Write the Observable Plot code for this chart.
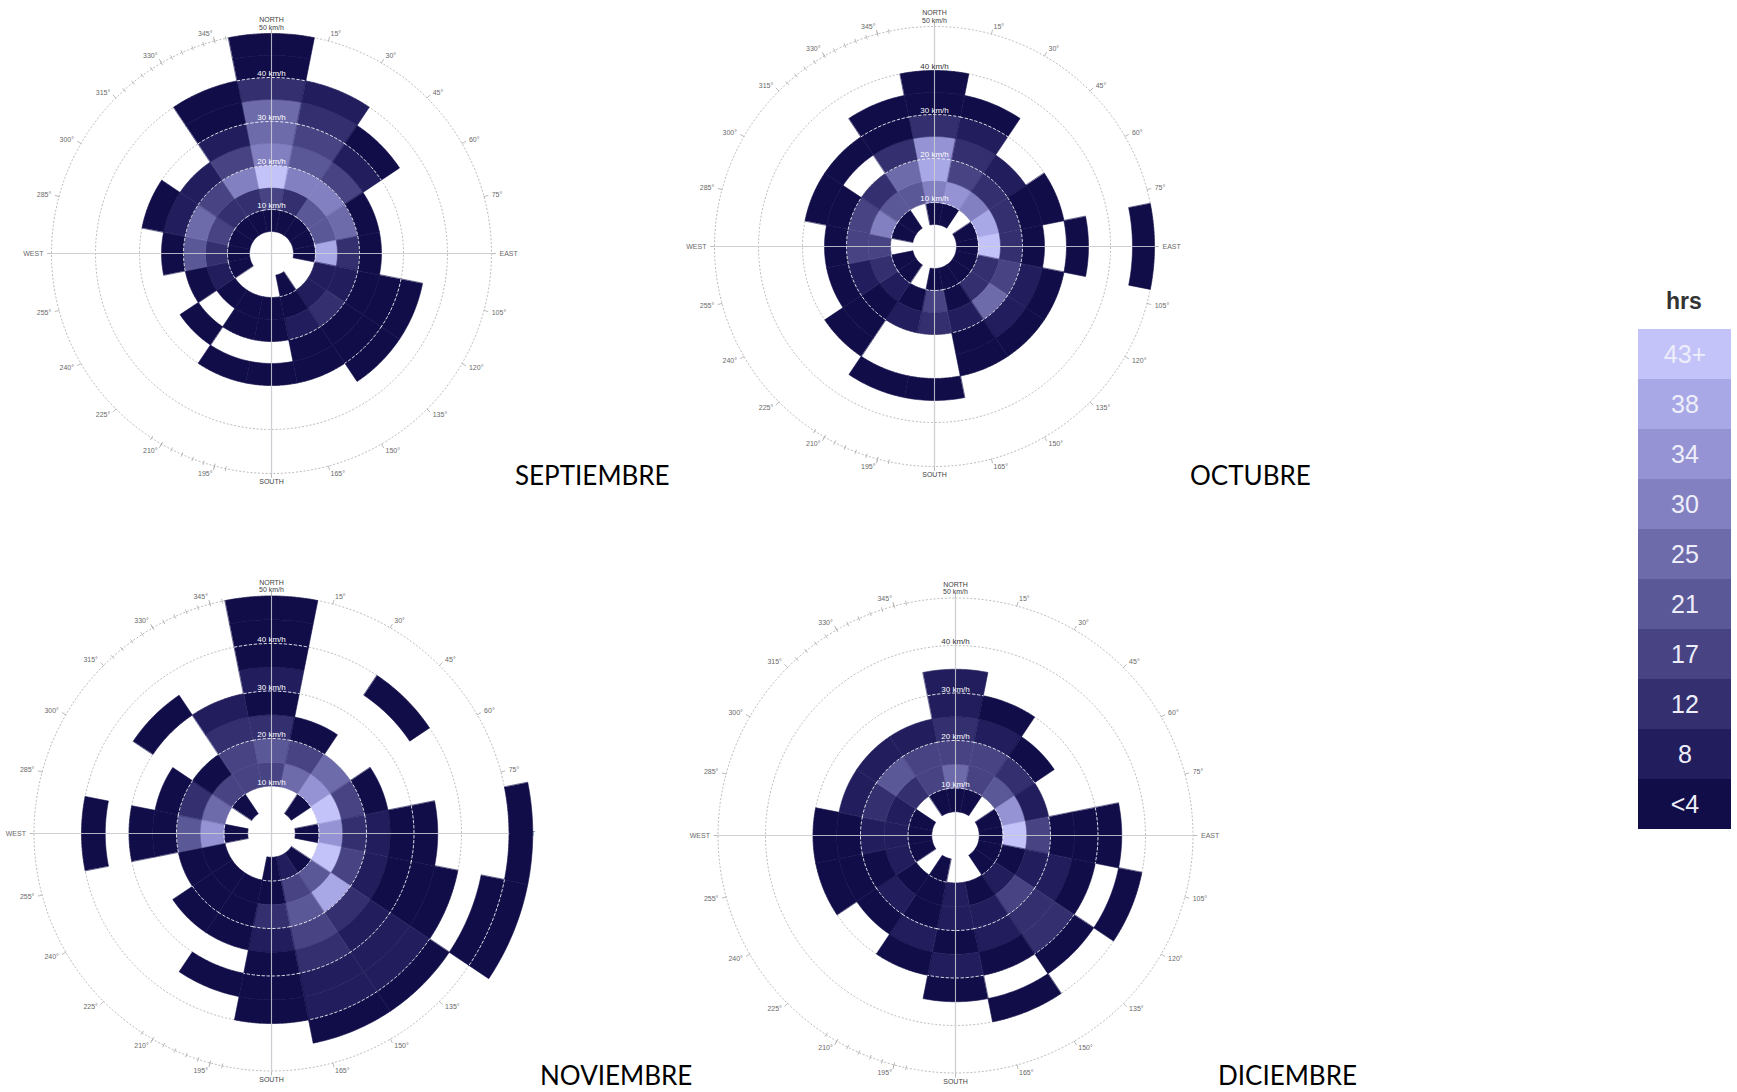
<!DOCTYPE html>
<html lang="es">
<head>
<meta charset="utf-8">
<title>Rosa de vientos por mes</title>
<script src="https://cdn.jsdelivr.net/npm/d3@7"></script>
<script src="https://cdn.jsdelivr.net/npm/@observablehq/plot@0.6"></script>
<style>
  html, body { margin: 0; padding: 0; background: #fff; }
  #page { position: relative; width: 1737px; height: 1092px; overflow: hidden; background: #fff; }
  .rose, .legend { position: absolute; }
  .month { position: absolute; font-family: Lato, "Open Sans", sans-serif; font-size: 26px; line-height: 1; color: #000; white-space: nowrap; }
  .hrs { position: absolute; font-family: "Liberation Sans", Arial, sans-serif; font-weight: bold; font-size: 23px; line-height: 1; color: #333; }
</style>
</head>
<body>
<div id="page"></div>
<script>
// Direction sectors, 22.5° wide and centred on each compass point (clockwise from north)
const directions = ["N", "NNE", "NE", "ENE", "E", "ESE", "SE", "SSE", "S", "SSW", "SW", "WSW", "W", "WNW", "NW", "NNW"];
// Speed bin edges in km/h: column j holds the hours between speedEdges[j] and speedEdges[j + 1]
const speedEdges = [5, 10, 15, 20, 25, 30, 35, 40, 45, 50, 55];
const ringSpeeds = [10, 20, 30, 40];
const dashedSpeeds = [10, 20, 30, 40, 50];
const compassBearings = d3.range(0, 360, 15);

// Hours of wind per direction (rows) and speed bin (columns 5–10 … 50–55 km/h)
const septiembre = [
  [2, 15, 45, 28, 24, 24, 11, 2, 2, 0],
  [2, 11, 28, 20, 15, 11, 7, 0, 0, 0],
  [2, 20, 28, 15, 7, 2, 0, 0, 0, 0],
  [2, 20, 24, 2, 0, 0, 0, 0, 0, 0],
  [2, 37, 11, 2, 0, 0, 0, 0, 0, 0],
  [0, 7, 7, 2, 2, 2, 0, 0, 0, 0],
  [0, 7, 11, 2, 2, 2, 0, 0, 0, 0],
  [2, 2, 7, 2, 2, 0, 0, 0, 0, 0],
  [0, 2, 2, 0, 2, 0, 0, 0, 0, 0],
  [0, 2, 2, 0, 2, 0, 0, 0, 0, 0],
  [0, 2, 0, 2, 0, 0, 0, 0, 0, 0],
  [2, 7, 2, 0, 0, 0, 0, 0, 0, 0],
  [2, 11, 20, 2, 0, 0, 0, 0, 0, 0],
  [2, 15, 24, 7, 2, 0, 0, 0, 0, 0],
  [2, 11, 15, 7, 0, 0, 0, 0, 0, 0],
  [2, 11, 28, 15, 7, 2, 2, 0, 0, 0]
];
const octubre = [
  [2, 28, 37, 33, 11, 2, 2, 0, 0, 0],
  [2, 33, 15, 11, 7, 2, 0, 0, 0, 0],
  [0, 28, 11, 7, 0, 0, 0, 0, 0, 0],
  [2, 37, 11, 2, 2, 0, 0, 0, 0, 0],
  [2, 45, 11, 2, 0, 2, 0, 0, 2, 0],
  [2, 11, 15, 7, 2, 0, 0, 0, 0, 0],
  [2, 11, 24, 7, 2, 0, 0, 0, 0, 0],
  [2, 2, 7, 2, 2, 0, 0, 0, 0, 0],
  [2, 15, 11, 0, 0, 2, 0, 0, 0, 0],
  [0, 2, 7, 0, 0, 2, 0, 0, 0, 0],
  [2, 7, 2, 2, 2, 0, 0, 0, 0, 0],
  [2, 11, 7, 2, 0, 0, 0, 0, 0, 0],
  [0, 15, 15, 2, 0, 0, 0, 0, 0, 0],
  [2, 28, 15, 2, 2, 0, 0, 0, 0, 0],
  [2, 20, 11, 0, 2, 0, 0, 0, 0, 0],
  [0, 20, 24, 11, 2, 2, 0, 0, 0, 0]
];
const noviembre = [
  [0, 15, 20, 11, 2, 7, 2, 2, 2, 0],
  [0, 24, 15, 2, 0, 0, 0, 0, 0, 0],
  [2, 33, 24, 0, 0, 0, 2, 0, 0, 0],
  [0, 45, 15, 2, 0, 0, 0, 0, 0, 0],
  [2, 33, 11, 7, 2, 2, 0, 0, 0, 2],
  [0, 45, 15, 7, 2, 2, 2, 0, 2, 2],
  [2, 20, 37, 11, 7, 7, 7, 2, 0, 0],
  [7, 15, 20, 15, 11, 7, 7, 2, 0, 0],
  [2, 2, 11, 7, 2, 2, 2, 0, 0, 0],
  [0, 2, 2, 2, 0, 2, 0, 0, 0, 0],
  [0, 2, 2, 2, 0, 0, 0, 0, 0, 0],
  [0, 2, 2, 0, 0, 0, 0, 0, 0, 0],
  [2, 33, 20, 2, 2, 0, 2, 0, 0, 0],
  [0, 24, 11, 2, 0, 0, 0, 0, 0, 0],
  [2, 15, 2, 0, 0, 2, 0, 0, 0, 0],
  [0, 15, 15, 11, 7, 0, 0, 0, 0, 0]
];
const diciembre = [
  [2, 24, 15, 11, 7, 7, 0, 0, 0, 0],
  [2, 15, 15, 7, 2, 0, 0, 0, 0, 0],
  [0, 20, 11, 2, 0, 0, 0, 0, 0, 0],
  [2, 33, 7, 0, 0, 0, 0, 0, 0, 0],
  [2, 45, 15, 2, 2, 2, 0, 0, 0, 0],
  [2, 2, 7, 7, 2, 0, 2, 0, 0, 0],
  [2, 7, 15, 11, 11, 2, 0, 0, 0, 0],
  [0, 2, 7, 7, 2, 0, 2, 0, 0, 0],
  [0, 7, 7, 2, 7, 2, 0, 0, 0, 0],
  [2, 2, 2, 7, 2, 0, 0, 0, 0, 0],
  [0, 2, 7, 2, 0, 0, 0, 0, 0, 0],
  [2, 7, 2, 2, 2, 0, 0, 0, 0, 0],
  [2, 7, 7, 2, 2, 0, 0, 0, 0, 0],
  [2, 7, 11, 7, 0, 0, 0, 0, 0, 0],
  [0, 11, 20, 7, 0, 0, 0, 0, 0, 0],
  [2, 15, 15, 7, 0, 0, 0, 0, 0, 0]
];

// Colour key (hours)
const legendLabels = ["43+", "38", "34", "30", "25", "21", "17", "12", "8", "<4"];
const legendHours = [45, 37, 33, 28, 24, 20, 15, 11, 7, 2];
const hourBreaks = [4.3, 8.6, 12.9, 17.2, 21.5, 25.8, 30.1, 34.4, 38.7];
const hourColors = ["#110d49", "#221e5d", "#34306f", "#484483", "#5b5897", "#6e6bab", "#8280c0", "#9593d3", "#a9a8e6", "#c3c3fa"];
const colorScale = {type: "threshold", domain: hourBreaks, range: hourColors};

const fontStyle = {fontFamily: "'Liberation Sans', Arial, sans-serif", background: "transparent", overflow: "visible"};

function windRose(values, {size, k}) {
  const c = size / 2;
  // bearing (degrees clockwise from north) and speed (km/h) → screen
  const polar = d3.geoTransform({
    point(bearing, speed) {
      const a = bearing * Math.PI / 180;
      this.stream.point(c + k * speed * Math.sin(a), c - k * speed * Math.cos(a));
    }
  });
  const step = 360 / directions.length;
  const half = step / 2;
  const arc = (b0, b1, s) => {
    const n = Math.max(2, Math.ceil(Math.abs(b1 - b0)));
    return d3.range(n + 1).map(t => [b0 + (b1 - b0) * t / n, s]);
  };
  const px = p => p / k; // screen pixels → km/h along the radius

  const cells = [];
  values.forEach((row, i) => row.forEach((h, j) => {
    if (!h) return;
    const b = i * step;
    const ring = [...arc(b - half, b + half, speedEdges[j + 1]), ...arc(b + half, b - half, speedEdges[j])];
    ring.push(ring[0]);
    cells.push({type: "Feature", properties: {hours: h}, geometry: {type: "Polygon", coordinates: [ring]}});
  }));

  const gridCircles = [...ringSpeeds, 50].map(s => ({type: "LineString", coordinates: arc(0, 360, s)}));
  // dashed speed circles, drawn across the sectors where the circle runs inside filled cells
  const overlayArcs = [];
  dashedSpeeds.forEach(s => {
    const j = speedEdges.indexOf(s);
    values.forEach((row, i) => {
      if (row[j] && row[j - 1]) overlayArcs.push({type: "LineString", coordinates: arc(i * step - half, i * step + half, s)});
    });
  });
  const axes = [
    {type: "LineString", coordinates: [[270, 50], [90, 50]]},
    {type: "LineString", coordinates: [[0, 50], [180, 50]]}
  ];
  const minorBearings = [...d3.range(318, 349, 3), ...d3.range(192, 214, 3)];
  const ticks = [
    ...compassBearings.map(b => ({type: "LineString", coordinates: [[b, 50], [b, 50 + px(4)]]})),
    ...minorBearings.map(b => ({type: "LineString", coordinates: [[b, 50 - px(2)], [b, 50 + px(2)]]}))
  ];
  const sideLabel = b => b === 90 ? "EAST" : b === 270 ? "WEST" : `${b}°`;
  const northRow = values[0];
  const ringOnData = s => northRow[speedEdges.indexOf(s)] > 0;

  return Plot.plot({
    width: size,
    height: size,
    margin: 0,
    projection: polar,
    color: colorScale,
    style: fontStyle,
    marks: [
      Plot.geo(gridCircles, {stroke: "#bdbdbd", strokeWidth: 1, strokeDasharray: "1.2,2.6"}),
      Plot.geo(ticks, {stroke: "#a8a8a8", strokeWidth: 0.8}),
      Plot.text(compassBearings.filter(b => b > 0 && b < 180), {x: b => b, y: () => 50 + px(8), text: sideLabel, textAnchor: "start", fill: "#6a6a6a", fontSize: 7}),
      Plot.text(compassBearings.filter(b => b > 180), {x: b => b, y: () => 50 + px(8), text: sideLabel, textAnchor: "end", fill: "#6a6a6a", fontSize: 7}),
      Plot.text([0], {x: b => b, y: () => 50 + px(4), text: () => "NORTH\n50 km/h", lineAnchor: "bottom", lineHeight: 1.05, fill: "#444", fontSize: 7}),
      Plot.text([180], {x: b => b, y: () => 50 + px(6), text: () => "SOUTH", lineAnchor: "top", fill: "#444", fontSize: 7}),
      Plot.geo(axes, {stroke: "#d0d0d4", strokeWidth: 1.2}),
      Plot.geo(cells, {fill: d => d.properties.hours, stroke: d => d.properties.hours, strokeWidth: 0.6}),
      Plot.geo(overlayArcs, {stroke: "white", strokeOpacity: 0.85, strokeWidth: 1, strokeDasharray: "2.5,2.5"}),
      Plot.geo(axes, {stroke: "#cfcfd6", strokeWidth: 1.1, strokeOpacity: 0.85}),
      Plot.text(ringSpeeds.filter(ringOnData), {x: () => 0, y: s => s + px(1.5), text: s => `${s} km/h`, lineAnchor: "bottom", fill: "white", fontSize: 8}),
      Plot.text(ringSpeeds.filter(s => !ringOnData(s)), {x: () => 0, y: s => s + px(1.5), text: s => `${s} km/h`, lineAnchor: "bottom", fill: "#333", fontSize: 8})
    ]
  });
}

const page = document.getElementById("page");
const months = [
  {name: "SEPTIEMBRE", values: septiembre, cx: 271, cy: 253, k: 4.4, size: 540, lx: 515, ly: 462},
  {name: "OCTUBRE", values: octubre, cx: 934, cy: 246, k: 4.4, size: 540, lx: 1190, ly: 462},
  {name: "NOVIEMBRE", values: noviembre, cx: 271, cy: 833, k: 4.75, size: 580, lx: 540, ly: 1062},
  {name: "DICIEMBRE", values: diciembre, cx: 955, cy: 835, k: 4.75, size: 580, lx: 1218, ly: 1062}
];

for (const m of months) {
  const svg = windRose(m.values, m);
  svg.classList.add("rose");
  svg.style.left = `${m.cx - m.size / 2}px`;
  svg.style.top = `${m.cy - m.size / 2}px`;
  page.appendChild(svg);
}
for (const m of months) {
  const label = document.createElement("div");
  label.className = "month";
  label.textContent = m.name;
  label.style.left = `${m.lx}px`;
  label.style.top = `${m.ly}px`;
  page.appendChild(label);
}

// Colour key
const hrs = document.createElement("div");
hrs.className = "hrs";
hrs.textContent = "hrs";
hrs.style.left = "1666px";
hrs.style.top = "290px";
page.appendChild(hrs);

const legend = Plot.plot({
  width: 93,
  height: 504,
  margin: 0,
  style: fontStyle,
  x: {axis: null},
  y: {type: "band", domain: legendLabels, axis: null, padding: 0},
  color: colorScale,
  marks: [
    Plot.cell(legendLabels, {y: d => d, fill: (d, i) => legendHours[i]}),
    Plot.text(legendLabels, {y: d => d, text: d => d, fill: "#eeeefa", fontSize: 25})
  ]
});
legend.classList.add("legend");
legend.style.left = "1638px";
legend.style.top = "327px";
page.appendChild(legend);
</script>
</body>
</html>
